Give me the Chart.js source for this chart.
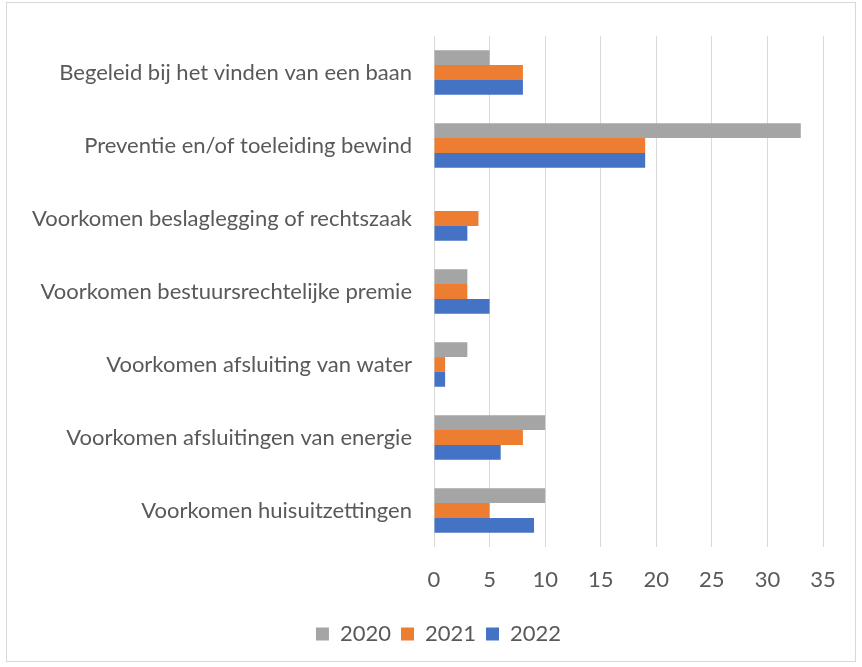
<!DOCTYPE html>
<html>
<head>
<meta charset="utf-8">
<script src="https://cdn.jsdelivr.net/npm/chart.js@4"></script>
<style>
html,body{margin:0;padding:0;background:#fff;}
#wrap{position:absolute;left:0;top:0;width:862px;height:667px;}
#frame{position:absolute;left:6px;top:2px;width:850px;height:660px;border:1px solid #D9D9D9;box-sizing:border-box;pointer-events:none;}
</style>
</head>
<body>
<div id="wrap"><canvas id="c" width="862" height="667"></canvas></div>
<div id="frame"></div>
<script>
const categories = [
  "Begeleid bij het vinden van een baan",
  "Preventie en/of toeleiding bewind",
  "Voorkomen beslaglegging of rechtszaak",
  "Voorkomen bestuursrechtelijke premie",
  "Voorkomen afsluiting van water",
  "Voorkomen afsluitingen van energie",
  "Voorkomen huisuitzettingen"
];
const seriesNames = ["2020", "2021", "2022"];
const values2020 = [5, 33, 0, 3, 3, 10, 10];
const values2021 = [8, 19, 4, 3, 1, 8, 5];
const values2022 = [8, 19, 3, 5, 1, 6, 9];
const xTicks = [0, 5, 10, 15, 20, 25, 30, 35];

const colors = ["#A5A5A5", "#ED7D31", "#4472C4"];
const font = {family: "Lato, 'Open Sans', sans-serif", size: 22};

const legendShift = {
  id: 'legendShift',
  afterUpdate(chart) {
    const lg = chart.legend;
    if (lg) { lg.left += 27; lg.right += 27; }
  }
};

new Chart(document.getElementById('c'), {
  type: 'bar',
  data: {
    labels: categories,
    datasets: [values2020, values2021, values2022].map((v, i) => ({
      label: seriesNames[i],
      data: v,
      backgroundColor: colors[i],
      borderWidth: 0,
      categoryPercentage: 0.61,
      barPercentage: 1.0
    }))
  },
  plugins: [legendShift],
  options: {
    indexAxis: 'y',
    responsive: false,
    animation: false,
    devicePixelRatio: 1,
    layout: {padding: {top: 36, right: 39, bottom: 12, left: 0}},
    scales: {
      x: {
        min: 0, max: 35,
        afterBuildTicks: s => { s.ticks = xTicks.map(v => ({value: v})); },
        grid: {color: '#D9D9D9', lineWidth: 1, drawTicks: false},
        border: {display: false},
        ticks: {color: '#595959', font: font, padding: 20},
        afterFit: s => { s.height = 66; }
      },
      y: {
        grid: {display: false, drawTicks: false},
        border: {display: false},
        ticks: {color: '#595959', font: font, padding: 22},
        afterFit: s => { s.width = 434; }
      }
    },
    plugins: {
      legend: {
        position: 'bottom',
        labels: {color: '#595959', font: font, boxWidth: 13, boxHeight: 13, padding: 10}
      },
      tooltip: {enabled: false}
    }
  }
});
</script>
</body>
</html>
